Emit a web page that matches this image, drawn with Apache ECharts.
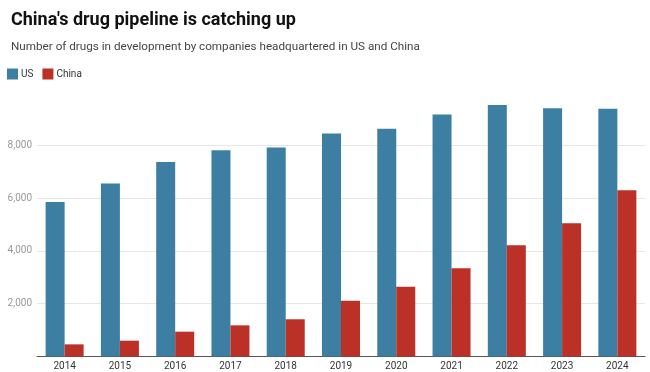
<!DOCTYPE html>
<html>
<head>
<meta charset="utf-8">
<script src="https://cdn.jsdelivr.net/npm/echarts@6/dist/echarts.min.js"></script>
<style>
html,body{margin:0;padding:0;background:#fff;}
#c{width:650px;height:372px;}
</style>
</head>
<body>
<div id="c"></div>
<script>
const years = ['2014','2015','2016','2017','2018','2019','2020','2021','2022','2023','2024'];
const usValues = [5850, 6550, 7370, 7810, 7920, 8450, 8630, 9170, 9530, 9400, 9380];
const chinaValues = [460, 600, 940, 1180, 1410, 2115, 2645, 3340, 4210, 5045, 6295];
const seriesNames = ['US', 'China'];
const titleText = "China's drug pipeline is catching up";
const subtitleText = 'Number of drugs in development by companies headquartered in US and China';

const chart = echarts.init(document.getElementById('c'), null, {renderer: 'canvas'});
const FONT = 'Roboto, "Noto Sans", sans-serif';
chart.setOption({
  animation: false,
  backgroundColor: '#ffffff',
  title: [
    {text: titleText, left: 6, top: 4,
     textStyle: {fontFamily: FONT, fontSize: 18, fontWeight: 'bold', color: '#111', lineHeight: 22}},
    {text: subtitleText, left: 6, top: 34,
     textStyle: {fontFamily: FONT, fontSize: 11.7, fontWeight: 'normal', color: '#444', lineHeight: 16}}
  ],
  legend: {
    left: 7, top: 68.5, itemWidth: 11, itemHeight: 11, itemGap: 9, icon: 'rect',
    padding: 0,
    textStyle: {fontFamily: FONT, fontSize: 10, color: '#333', padding: [0,0,0,-2]},
    data: seriesNames
  },
  grid: {left: 37, right: 5, top: 92.5, bottom: 15.5, containLabel: false},
  xAxis: {
    type: 'category', data: years,
    axisLine: {lineStyle: {color: '#555', width: 1}},
    axisTick: {show: false},
    axisLabel: {fontFamily: FONT, fontSize: 10, color: '#333', margin: 5}
  },
  yAxis: {
    type: 'value', min: 0, max: 10000, interval: 2000,
    axisLine: {show: false}, axisTick: {show: false},
    axisLabel: {fontFamily: FONT, fontSize: 10, color: '#999', margin: 5,
      formatter: v => (v === 0 || v === 10000) ? '' : v.toLocaleString('en-US')},
    splitLine: {lineStyle: {color: ['#e6e6e6','#e6e6e6','#e6e6e6','#e6e6e6','#e6e6e6','rgba(0,0,0,0)'], width: 1}}
  },
  series: [
    {name: seriesNames[0], type: 'bar', data: usValues, barWidth: 19, barGap: '0%',
     itemStyle: {color: '#3d7fa3'}},
    {name: seriesNames[1], type: 'bar', data: chinaValues, barWidth: 19, barGap: '0%',
     itemStyle: {color: '#bb3128'}}
  ]
});
</script>
</body>
</html>
